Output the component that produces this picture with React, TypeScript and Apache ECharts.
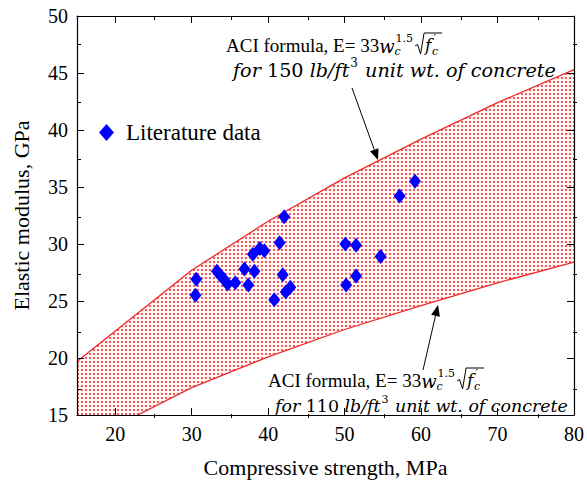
import React, { useEffect, useRef } from "react";
import * as echarts from "echarts";

// ---------- data ----------
const xMajorTicks = [20, 30, 40, 50, 60, 70, 80];
const xMinorTicks = [25, 35, 45, 55, 65, 75];
const yMinorTicks = [17.5, 22.5, 27.5, 32.5, 37.5, 42.5, 47.5];

const curveStrength = [15, 30, 40, 50, 60, 70, 80];
const upper150 = [19.7, 27.7, 32.0, 35.8, 39.2, 42.4, 45.3];
const lower110 = [12.3, 17.4, 20.1, 22.5, 24.6, 26.6, 28.4];

const litStrength = [30.6, 30.5, 33.3, 33.7, 34.2, 34.7, 35.7, 36.9, 37.4, 38.0, 38.2, 38.9, 39.5, 40.8, 41.5, 42.1, 41.9, 42.3, 42.9, 50.1, 50.2, 51.5, 51.5, 54.7, 57.2, 59.2];
const litModulus = [26.9, 25.5, 27.6, 27.3, 26.9, 26.5, 26.6, 27.8, 26.4, 29.1, 27.6, 29.6, 29.4, 25.1, 30.1, 32.4, 27.3, 25.8, 26.2, 30.0, 26.4, 29.9, 27.2, 28.9, 34.2, 35.5];

// ---------- styles ----------
const SERIF = '"Liberation Serif", "Times New Roman", serif';
const MATH = '"DejaVu Serif", serif';
const RED = "#ee2a2a";

let mctx: CanvasRenderingContext2D | null = null;
function measure(text: string, font: string): number {
  if (!mctx) mctx = document.createElement("canvas").getContext("2d");
  mctx!.font = font;
  return mctx!.measureText(text).width;
}

function piece(x: number, y: number, text: string, size: number, family: string, italic: boolean) {
  return {
    type: "text",
    x,
    y,
    silent: true,
    z: 100,
    style: {
      text,
      fontSize: size,
      fontFamily: family,
      fontStyle: italic ? "italic" : "normal",
      fill: "#000",
      align: "left",
      verticalAlign: "middle",
      lineHeight: size,
    },
  };
}

function line2Layout(x2: number, y2: number, weight: string, size: number, draw: boolean, els: any[]) {
  let x = x2;
  const segs: [string, boolean][] = [
    ["for ", true],
    [weight, false],
    [" lb/ft", true],
  ];
  for (const [t, it] of segs) {
    if (draw) els.push(piece(x, y2, t, size, MATH, it));
    x += measure(t, `${it ? "italic " : ""}${size}px ${MATH}`);
  }
  const sup = Math.round(size * 0.65);
  if (draw) els.push(piece(x + 1, y2 - 7, "3", sup, MATH, false));
  x += measure("3", `${sup}px ${MATH}`) + 2;
  const tail = " unit wt. of concrete";
  if (draw) els.push(piece(x, y2, tail, size, MATH, true));
  x += measure(tail, `italic ${size}px ${MATH}`);
  return x - x2;
}

function formula(x1: number, y1: number, x2: number, y2: number, end2: number, weight: string) {
  const els: any[] = [];
  // line 1
  let x = x1;
  const s1 = 19;
  const t1 = "ACI formula, E= 33";
  els.push(piece(x, y1, t1, s1, SERIF, false));
  x += measure(t1, `${s1}px ${SERIF}`);
  const ms = 18;
  els.push(piece(x, y1 + 1, "w", ms, MATH, true));
  x += measure("w", `italic ${ms}px ${MATH}`);
  const ss = 11;
  els.push(piece(x + 1, y1 - 7, "1.5", ss, MATH, false));
  els.push(piece(x, y1 + 6, "c", ss, MATH, true));
  x += measure("1.5", `${ss}px ${MATH}`) + 3;
  const fw = 18;
  els.push({
    type: "polyline",
    silent: true,
    z: 100,
    shape: {
      points: [
        [x, y1 + 1],
        [x + 2.5, y1 - 0.5],
        [x + 5.5, y1 + 9],
        [x + 9, y1 - 12],
        [x + 9 + fw, y1 - 12],
      ],
    },
    style: { stroke: "#000", lineWidth: 1, fill: null },
  });
  x += 10;
  els.push(piece(x, y1, "f", 17, MATH, true));
  const fW = measure("f", `italic 17px ${MATH}`);
  els.push(piece(x + fW + 0.5, y1 + 6.5, "c", ss, MATH, true));
  els.push(piece(x + fW + 2, y1 - 6.5, "\u2032", ss, MATH, false));
  // line 2, sized to fit its span
  const base = 18;
  const natural = line2Layout(x2, y2, weight, base, false, els);
  const size = Math.round(base * ((end2 - x2) / natural) * 10) / 10;
  line2Layout(x2, y2, weight, size, true, els);
  return els;
}

function arrow(x1: number, y1: number, x2: number, y2: number) {
  const dx = x2 - x1;
  const dy = y2 - y1;
  const len = Math.sqrt(dx * dx + dy * dy);
  const ux = dx / len;
  const uy = dy / len;
  const hl = 11;
  const hw = 4.5;
  const bx = x2 - ux * hl;
  const by = y2 - uy * hl;
  return [
    { type: "line", silent: true, z: 100, shape: { x1, y1, x2: bx, y2: by }, style: { stroke: "#000", lineWidth: 1 } },
    {
      type: "polygon",
      silent: true,
      z: 100,
      shape: {
        points: [
          [x2, y2],
          [bx - uy * hw, by + ux * hw],
          [bx + uy * hw, by - ux * hw],
        ],
      },
      style: { fill: "#000" },
    },
  ];
}

function dotPattern() {
  const c = document.createElement("canvas");
  c.width = 4;
  c.height = 4;
  const ctx = c.getContext("2d")!;
  ctx.fillStyle = "#fff6f6";
  ctx.fillRect(0, 0, 4, 4);
  ctx.fillStyle = "#f25a5a";
  ctx.fillRect(1, 1, 2, 2);
  return c;
}

function buildOption(): any {
  const gridRect = { left: 77, top: 16, width: 500, height: 402 };
  const axisLine = { show: true, lineStyle: { color: "#000", width: 1.2 } };
  const tickStyle = { color: "#000", width: 1 };
  const xBase = { type: "value", min: 15, max: 80, z: 10, splitLine: { show: false } };
  const yBase = { type: "value", min: 15, max: 50, interval: 5, z: 10, splitLine: { show: false } };

  const upperData = curveStrength.map((x, i) => [x, upper150[i]]);
  const lowerData = curveStrength.map((x, i) => [x, lower110[i]]);
  const litData = litStrength.map((x, i) => [x, litModulus[i]]);

  return {
    animation: false,
    backgroundColor: "#fff",
    grid: [{ ...gridRect }, { ...gridRect }],
    xAxis: [
      {
        ...xBase,
        gridIndex: 0,
        position: "bottom",
        axisLine,
        axisTick: { show: true, inside: true, length: 7, lineStyle: tickStyle, customValues: xMajorTicks },
        axisLabel: { show: true, customValues: xMajorTicks, fontSize: 20, fontFamily: SERIF, color: "#000", margin: 9 },
        name: "Compressive strength, MPa",
        nameLocation: "middle",
        nameGap: 41,
        nameTextStyle: { fontSize: 22, fontFamily: SERIF, color: "#000" },
      },
      {
        ...xBase,
        gridIndex: 0,
        position: "top",
        axisLine,
        axisTick: { show: true, inside: true, length: 7, lineStyle: tickStyle, customValues: xMajorTicks },
        axisLabel: { show: false },
      },
      {
        ...xBase,
        gridIndex: 1,
        position: "bottom",
        axisLine: { show: false },
        axisTick: { show: true, inside: true, length: 4, lineStyle: tickStyle, customValues: xMinorTicks },
        axisLabel: { show: false },
      },
      {
        ...xBase,
        gridIndex: 1,
        position: "top",
        axisLine: { show: false },
        axisTick: { show: true, inside: true, length: 4, lineStyle: tickStyle, customValues: xMinorTicks },
        axisLabel: { show: false },
      },
    ],
    yAxis: [
      {
        ...yBase,
        gridIndex: 0,
        position: "left",
        axisLine,
        axisTick: { show: true, inside: true, length: 7, lineStyle: tickStyle },
        axisLabel: { show: true, fontSize: 20, fontFamily: SERIF, color: "#000", margin: 9 },
        name: "Elastic modulus, GPa",
        nameLocation: "middle",
        nameGap: 45,
        nameTextStyle: { fontSize: 22, fontFamily: SERIF, color: "#000" },
      },
      {
        ...yBase,
        gridIndex: 0,
        position: "right",
        axisLine,
        axisTick: { show: true, inside: true, length: 7, lineStyle: tickStyle },
        axisLabel: { show: false },
      },
      {
        ...yBase,
        gridIndex: 1,
        position: "left",
        axisLine: { show: false },
        axisTick: { show: true, inside: true, length: 4, lineStyle: tickStyle, customValues: yMinorTicks },
        axisLabel: { show: false },
      },
      {
        ...yBase,
        gridIndex: 1,
        position: "right",
        axisLine: { show: false },
        axisTick: { show: true, inside: true, length: 4, lineStyle: tickStyle, customValues: yMinorTicks },
        axisLabel: { show: false },
      },
    ],
    legend: {
      data: ["Literature data"],
      left: 94,
      top: 116,
      itemWidth: 15,
      itemHeight: 17,
      textStyle: { fontSize: 23, fontFamily: SERIF, color: "#000", padding: [0, 0, 0, 7] },
    },
    series: [
      {
        name: "ACI 150",
        type: "line",
        xAxisIndex: 0,
        yAxisIndex: 0,
        data: upperData,
        symbol: "none",
        lineStyle: { color: RED, width: 1.3 },
        areaStyle: {
          origin: "start",
          color: { image: dotPattern(), repeat: "repeat", imageWidth: 4, imageHeight: 4 },
          opacity: 1,
        },
        z: 1,
      },
      {
        name: "ACI 110",
        type: "line",
        xAxisIndex: 0,
        yAxisIndex: 0,
        data: lowerData,
        symbol: "none",
        lineStyle: { color: RED, width: 1.3 },
        areaStyle: { origin: "start", color: "#ffffff", opacity: 1 },
        z: 2,
      },
      {
        name: "Literature data",
        type: "scatter",
        xAxisIndex: 0,
        yAxisIndex: 0,
        data: litData,
        symbol: "diamond",
        symbolSize: [12, 15],
        itemStyle: { color: "#0000ff", opacity: 1 },
        z: 5,
      },
    ],
    graphic: [
      ...formula(226, 45, 233, 70, 557, "150"),
      ...arrow(352, 88, 378, 160),
      ...formula(268, 380, 275, 406, 568, "110"),
      ...arrow(423, 370, 438, 305),
    ],
  };
}

export default function App() {
  const ref = useRef<HTMLDivElement>(null);
  useEffect(() => {
    const chart = echarts.init(ref.current!, null, { renderer: "svg" });
    chart.setOption(buildOption());
    return () => chart.dispose();
  }, []);
  return (
    <div
      ref={ref}
      style={{ position: "fixed", left: 0, top: 0, width: 587, height: 483, background: "#fff" }}
    />
  );
}
